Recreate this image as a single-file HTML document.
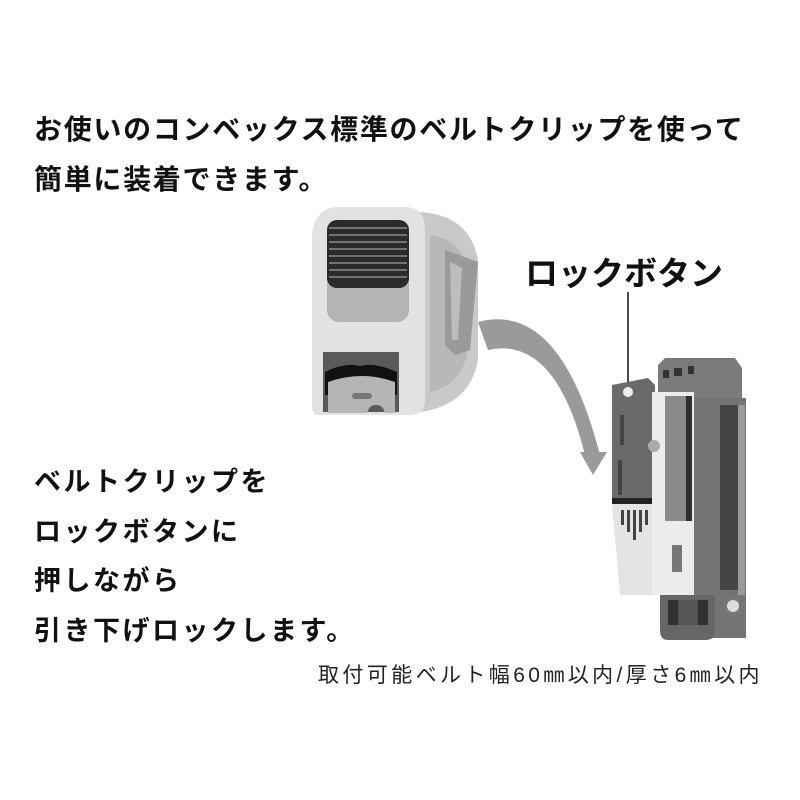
<!DOCTYPE html>
<html><head><meta charset="utf-8"><style>
html,body{margin:0;padding:0;background:#fff;}
body{width:800px;height:800px;position:relative;overflow:hidden;font-family:"Liberation Sans","Noto Sans CJK JP",sans-serif;color:#111;}
.t{position:absolute;white-space:nowrap;font-weight:700;}
</style></head><body>
<svg width="800" height="800" style="position:absolute;left:0;top:0">
<path d="M420 212 Q470 215 478 260 L478 360 Q470 405 420 412 Z" fill="#c9c9c9"/>
<path d="M430 235 Q462 240 468 270 L468 350 Q462 385 430 392 Z" fill="#b8b8b8"/>
<path d="M445 250 L478 262 L470 350 L455 355 L445 345 Z" fill="#9a9a9a"/>
<path d="M450 262 L462 268 L458 340 L452 340 Z" fill="#bdbdbd"/>
<path d="M340 207 L405 207 Q425 207 425 230 L425 400 Q425 415 410 415 L318 415 Q312 415 312 405 L312 240 Q312 207 340 207 Z" fill="#e2e2e2"/>
<rect x="327" y="220" width="82" height="102" rx="12" fill="#b4b4b4"/>
<rect x="327" y="220" width="82" height="68" rx="10" fill="#2a2a2a"/>
<g stroke="#8a8a8a" stroke-width="1.5">
<line x1="329" y1="228" x2="407" y2="228"/><line x1="329" y1="235" x2="407" y2="235"/><line x1="329" y1="242" x2="407" y2="242"/><line x1="329" y1="249" x2="407" y2="249"/><line x1="329" y1="256" x2="407" y2="256"/><line x1="329" y1="263" x2="407" y2="263"/><line x1="329" y1="270" x2="407" y2="270"/><line x1="329" y1="277" x2="407" y2="277"/>
</g>
<rect x="323" y="352" width="76" height="60" fill="#5a5a5a"/>
<path d="M325 372 Q345 362 360 366 Q375 362 397 372 L397 395 L325 395 Z" fill="#111"/>
<path d="M328 382 Q362 370 395 382 L395 413 L385 413 Q383 405 376 405 Q369 405 367 413 L328 413 Z" fill="#b5b5b5"/>
<rect x="352" y="393" width="20" height="6" rx="3" fill="#777"/>
<path d="M478 322 Q560 300 600 455 L585 455 Q555 335 488 350 Z" fill="#9a9a9a"/>
<polygon points="580,452 607,452 593,475" fill="#9a9a9a"/>
<line x1="628" y1="292" x2="628" y2="390" stroke="#111" stroke-width="1.5"/>
<polygon points="658,365 665,358 735,358 742,368 742,400 658,400" fill="#7a7a7a"/>
<rect x="663" y="370" width="6" height="8" fill="#333"/><rect x="674" y="368" width="8" height="8" fill="#333"/><rect x="688" y="366" width="6" height="8" fill="#333"/>
<polygon points="612,385 648,378 655,385 655,500 612,500" fill="#6a6a6a"/>
<circle cx="628" cy="392" r="5" fill="#eee"/>
<rect x="620" y="415" width="4" height="30" fill="#444"/>
<rect x="618" y="460" width="4" height="35" fill="#444"/>
<rect x="612" y="498" width="48" height="6" fill="#222"/>
<polygon points="612,504 660,504 660,595 620,595" fill="#e4e4e4"/>
<g fill="#444"><rect x="621" y="510" width="3" height="15"/><rect x="627" y="510" width="3" height="22"/><rect x="633" y="510" width="3" height="30"/><rect x="639" y="510" width="3" height="22"/><rect x="645" y="510" width="3" height="15"/></g>
<rect x="690" y="398" width="56" height="240" fill="#747474"/>
<rect x="720" y="405" width="18" height="185" fill="#444"/>
<rect x="738" y="405" width="7" height="190" fill="#999"/>
<rect x="652" y="392" width="42" height="203" fill="#ececec"/>
<rect x="665" y="396" width="25" height="125" fill="#8a8a8a"/>
<rect x="686" y="396" width="6" height="125" fill="#2f2f2f"/>
<rect x="672" y="545" width="10" height="27" fill="#777"/>
<circle cx="654" cy="446" r="6" fill="#aaa"/>
<path d="M660 595 L715 595 L715 632 Q715 640 705 640 L668 640 Q660 640 660 630 Z" fill="#666"/>
<rect x="668" y="600" width="40" height="25" fill="#333"/>
<rect x="678" y="600" width="20" height="25" fill="#555"/>
<circle cx="733" cy="606" r="10" fill="#777"/><circle cx="733" cy="606" r="6" fill="#ddd"/>
</svg>
<div class="t" style="left:34px;top:108px;font-size:28px;letter-spacing:1.7px;">お使いのコンベックス標準のベルトクリップを使って</div>
<div class="t" style="left:34px;top:158px;font-size:28px;letter-spacing:1.7px;">簡単に装着できます。</div>
<div class="t" style="left:525px;top:247px;font-size:33px;">ロックボタン</div>
<div class="t" style="left:34px;top:458px;font-size:27px;letter-spacing:2.5px;line-height:49.5px;">ベルトクリップを<br>ロックボタンに<br>押しながら<br>引き下げロックします。</div>
<div class="t" style="left:318px;top:659px;font-size:21px;font-weight:400;color:#222;letter-spacing:3.4px;">取付可能ベルト幅60㎜以内/厚さ6㎜以内</div>
</body></html>
